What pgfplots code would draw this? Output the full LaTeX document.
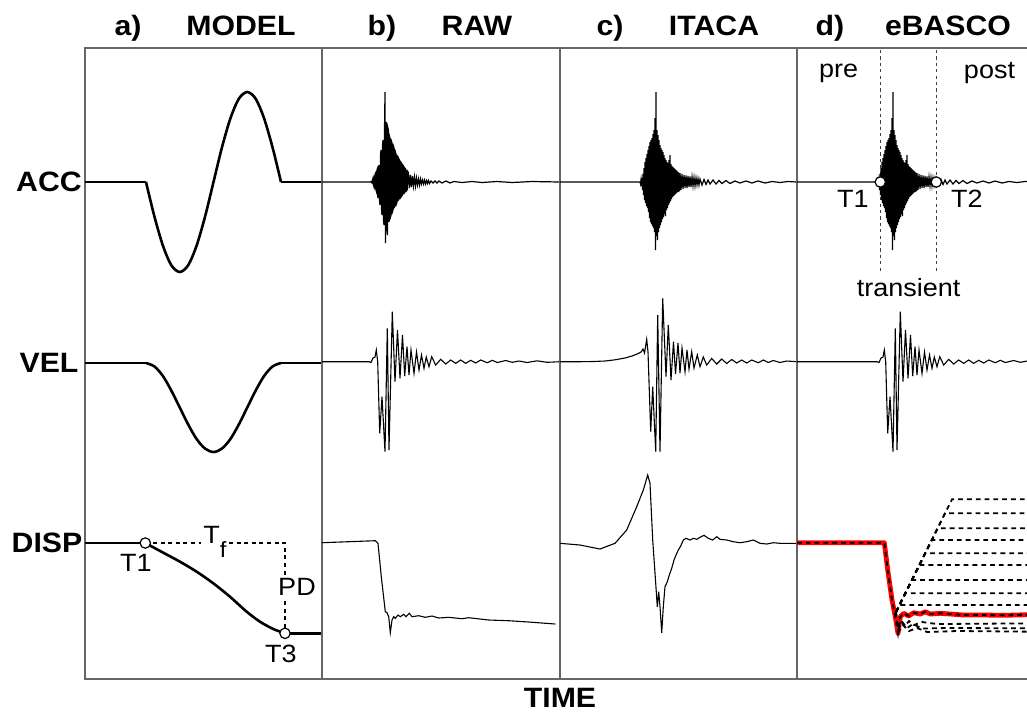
\documentclass[border=0pt]{standalone}
\usepackage{fontspec}
\setmainfont{Liberation Sans}[FakeStretch=1.08]
\usepackage{pgfplots}
\pgfplotsset{compat=1.18}
\usepackage{pgfplotstable}

% acceleration, RAW record (x: px from panel left, y: px from top)
\pgfplotstableread{
x y
0 182
48 182
49 181.5
50 183
50.5 180
51 178
51.5 185
52 187
52.5 177
53 175
53.5 188
54 190
54.5 172
55 170
55.5 195
56 198
56.5 168
57 165
57.5 200
58 205
58.5 155
59 150
59.5 210
60 215
60.5 145
61 140
61.5 220
62 225
62.5 130
63 92
63.5 243
64 125
64.5 122
65 230
65.5 235
66 128
66.5 130
67 222
67.5 218
68 138
68.5 140
69 215
69.5 213
70 143
70.5 145
71 210
71.5 208
72 148
72.5 150
73 206
73.5 205
74 154
74.5 156
75 202
75.5 200
76 157
76.5 158
77 199
77.5 198
78 161
78.5 162
79 197
79.5 196
80 164
80.5 165
81 194
81.5 193
82 167
82.5 168
83 192
83.5 191
84 170
84.5 171
85 190
85.5 189
86 172
86.5 173
87.5 188
88.5 175
89.5 187
90.5 176
91.5 186
92.5 177
93.5 186
94.5 178
95.5 185
96.5 179
97.5 185
98.5 179
99.5 184
100.5 180
101.5 184
102.5 180
103.5 184
104.5 180.5
105.5 183.5
106.5 180.5
107.5 183.5
109 181
111 183
113 181
115 183
117 181
120 183
124 181
128 183
132 181.5
140 182.5
150 181.5
160 182.5
175 181.5
190 182.5
210 181.5
238 182
}\accraw

% acceleration, ITACA / eBASCO window
\pgfplotstableread{
x y
0 182
79 182
80 182
80.5 184
81 180
81.5 186
82 178
82.5 190
83 174
83.5 195
84 168
84.5 200
85 162
85.5 203
86 158
86.5 206
87 154
87.5 208
88 150
88.5 212
89 146
89.5 218
90 142
90.5 222
91 140
91.5 224
92 138
92.5 226
93 134
93.5 228
94 130
94.5 232
95 118
95.5 250
96 92
96.5 236
97 130
97.5 240
98 135
98.5 232
99 140
99.5 228
100 145
100.5 225
101 148
101.5 222
102 150
102.5 219
103 152
103.5 217
104 155
104.5 214
105 158
105.5 216
106 160
106.5 210
107 162
107.5 208
108 163
108.5 205
109 160
109.5 203
110 155
110.5 201
111 164
111.5 199
112 166
112.5 197
113 167
113.5 196
114 168
114.5 195
115 169
115.5 194
116 170
116.5 193
117 171
117.5 192
118 172
118.5 192
119 173
119.5 191
120 173
121 190
122 174
123 189
124 175
125 188
126 175.5
127 188
128 176
129 187
130 176.5
131 187
132 177
133 186
134 177.5
135 186
136 178
137 185
138 178.5
139 185
140 179
142 185
144 179.5
146 184.5
148 180
150 184
153 180
156 184
159 180.5
162 183.5
166 180.5
170 183.5
175 181
180 183
186 181
192 183
198 181
205 183
212 181.5
220 182.5
228 181.5
237 182
}\accc

\pgfplotsset{
  panel/.style={scale only axis, anchor=north west, height=315.5pt,
    ymin=48, ymax=679, y dir=reverse, xmin=0,
    xtick=\empty, ytick=\empty,
    axis line style={black!60, line width=0.9pt}, clip=true},
  model/.style={black, line width=1.3pt, no markers},
  wave/.style={black, line width=0.55pt, no markers},
  dense/.style={black, line width=0.6pt, no markers},
  fam/.style={black, line width=0.9pt, dash pattern=on 2.4pt off 2pt, no markers},
  circ/.style={only marks, mark=*, mark size=2.6pt,
    mark options={fill=white, draw=black, line width=0.6pt, solid}},
}
\tikzset{ann/.style={font=\fontsize{12.5}{14}\selectfont}}

\begin{document}
\begin{tikzpicture}
% ---------------- a) MODEL
\begin{axis}[panel, at={(42.5pt,-24pt)}, width=118.5pt, xmax=237]
\addplot[model] coordinates {(0,182) (61,182)};
\addplot[model, smooth] coordinates {(61,182) (69.4,216.4) (77.9,245.6) (86.3,265.2) (94.75,272) (103.2,265.2) (111.6,245.6) (120.1,216.4) (128.5,182) (136.9,147.6) (145.4,118.4) (153.8,98.8) (162.25,92) (170.7,98.8) (179.1,118.4) (187.6,147.6) (196,182)};
\addplot[model] coordinates {(196,182) (237,182)};
\addplot[model] coordinates {(0,363) (61,363)};
\addplot[model, smooth] coordinates {(61,363) (69.4,366.4) (77.9,376) (86.3,390.5) (94.75,407.5) (103.2,424.5) (111.6,439) (120.1,448.6) (128.5,452) (136.9,448.6) (145.4,439) (153.8,424.5) (162.25,407.5) (170.7,390.5) (179.1,376) (187.6,366.4) (196,363)};
\addplot[model] coordinates {(196,363) (237,363)};
\addplot[black, line width=0.6pt, dash pattern=on 2pt off 1.8pt, no markers] coordinates {(60.3,543) (200,543) (200,633.3)};
\addplot[model] coordinates {(0,543) (60.3,543)};
\addplot[model, smooth] coordinates {(60.3,543) (78.3,552.7) (95,561.7) (111.7,571.7) (128.3,583.3) (145,596.7) (161.7,611.7) (175,621.7) (188.3,629) (200,633.3)};
\addplot[model] coordinates {(200,633.3) (237,633.3)};
\addplot[circ] coordinates {(60.3,543) (200,633.3)};
\node[ann] at (axis cs:50.8,562.5) {T1};
\node[ann] at (axis cs:195.8,654) {T3};
\node[ann, fill=white, inner sep=1pt] at (axis cs:212,587) {PD};
\node[ann, fill=white, inner sep=1pt, anchor=base] at (axis cs:130,543) {T\raisebox{-1.1ex}{\fontsize{11}{11}\selectfont f}};
\end{axis}
% ---------------- b) RAW
\begin{axis}[panel, at={(161pt,-24pt)}, width=119pt, xmax=238]
\addplot[dense] table[x=x,y=y] {\accraw};
\addplot[wave] coordinates {(0,361.7) (47,361.7) (49,362.5) (51,358) (53,357) (54.3,350) (55.7,362) (57.7,433.3) (60,396.7) (63,451.7) (65.3,328.3) (67,450) (70.3,311.7) (73,381.7) (75.5,330) (78,378.3) (80.5,335) (82.7,376) (85,346.7) (87,375) (89,350) (92,373.3) (94.5,352) (97,370) (99.5,355) (102,368.3) (104.3,357) (107,366.7) (109.7,356.7) (113.7,365) (118.7,359.3) (123.7,364) (128.7,360) (133.7,363.3) (138.7,360) (143.7,363.3) (148.7,360.3) (153.7,363) (158.7,360) (165.3,362.7) (170.3,360.3) (175.3,362.5) (183.7,360.5) (190.3,362.3) (197,361) (205,362.5) (215,360.8) (225,362.3) (238,361.7)};
\addplot[wave] coordinates {(0,542.7) (53.3,540.7) (56,543.3) (59.3,576.7) (63.3,611.7) (65,612.7) (66.7,616.7) (68.3,632.7) (70,620) (71.7,616.7) (73.3,618.3) (76,615) (78.3,616.7) (81.7,614.3) (84,616.7) (87.3,613.3) (90,616.7) (96.7,615.7) (103.3,617.3) (110,616) (116.7,618) (126.7,617.3) (140,618.7) (146.7,617.7) (166.7,620) (186.7,620.7) (206.7,622) (233.3,624)};
\end{axis}
% ---------------- c) ITACA
\begin{axis}[panel, at={(280pt,-24pt)}, width=118.5pt, xmax=237]
\addplot[dense] table[x=x,y=y] {\accc};
\addplot[wave] coordinates {(0,361.7) (20,361.7) (33.3,361.5) (45,361) (55,359.8) (65,358) (72,356) (77,354) (81,352) (83,349) (84.5,353) (86.7,339.3) (88,352) (90.7,431.7) (92.7,386.7) (95.7,451.7) (97.7,315) (100,451.7) (102.7,298.3) (106,376.7) (108.3,325) (111,380) (113.5,341.7) (115.5,374) (118,343) (120,373) (122,348) (125,371.7) (127,350) (129,369) (131.7,351.7) (134,368) (137.3,355) (140,366.7) (143.3,357) (146.7,365) (151.7,358.5) (156.7,364) (161.7,359) (166.7,363.5) (171.7,359.5) (176.7,363) (181.7,360) (186.7,363) (191.7,360) (198.3,362.7) (203.3,360) (208.3,362.5) (213.3,360.5) (220,362.5) (226.7,361) (237,361.7)};
\addplot[wave] coordinates {(0,543.3) (20,545) (40,549) (55,543.3) (66.7,530) (76.7,506.7) (83.3,490) (87.7,475) (90,483.3) (92.7,540) (95.7,583.3) (97.3,606.7) (98.7,591.7) (100,606.7) (101.7,632.7) (103.3,606.7) (105,586.7) (107.3,581.7) (109.3,575) (111.7,568.3) (114,560) (116,555) (118.3,550) (120.7,546) (123.3,540) (126,538.3) (130,540) (133.3,538.3) (136.7,539.3) (140,537.3) (144,535.3) (148.3,538.3) (152.7,540) (156.7,536.7) (160,539.3) (166.7,540) (173.3,541.7) (180,542.7) (186.7,541.7) (193.3,540) (200,543.3) (206.7,544) (213.3,542.7) (220,543.3) (237,543.3)};
\end{axis}
% ---------------- d) eBASCO
\begin{axis}[panel, at={(398.5pt,-24pt)}, width=118.5pt, xmax=237]
\addplot[black!75, line width=0.6pt, dash pattern=on 1.6pt off 1.6pt, no markers] coordinates {(83.3,50) (83.3,272)};
\addplot[black!75, line width=0.6pt, dash pattern=on 1.6pt off 1.6pt, no markers] coordinates {(139.3,50) (139.3,272)};
\addplot[dense] table[x=x,y=y] {\accc};
\addplot[circ] coordinates {(83.3,182) (139.3,182)};
\addplot[wave] coordinates {(0,361.7) (80,361.7) (82,362.5) (84,358) (86,357) (87.3,350) (88.7,362) (90.7,433.3) (93,396.7) (96,451.7) (98.3,328.3) (100,450) (103.3,311.7) (106,381.7) (108.5,330) (111,378.3) (113.5,335) (115.7,376) (118,346.7) (120,375) (122,350) (125,373.3) (127.5,352) (130,370) (132.5,355) (135,368.3) (137.3,357) (140,366.7) (142.7,356.7) (146.7,365) (151.7,359.3) (156.7,364) (161.7,360) (166.7,363.3) (171.7,360) (176.7,363.3) (181.7,360.3) (186.7,363) (191.7,360) (198.3,362.7) (203.3,360.3) (208.3,362.5) (216.7,360.5) (223.3,362.3) (230,361) (237,361.7)};
% red reference displacement
\addplot[red, line width=2.4pt, line join=round, no markers] coordinates {(0,542.7) (87.3,542.7) (90.7,570) (95,600) (98.3,616.7) (101,633.3) (103.3,616.7) (106.7,613.3) (111.7,616) (116.7,612.7) (123.3,614) (128.3,611.7) (133.3,614) (143.3,613.3) (153.3,614) (166.7,615) (186.7,615) (206.7,615.3) (230,614.7) (237,614.7)};
% dashed family of corrected displacements
\addplot[fam] coordinates {(0,542.7) (87.3,542.7) (90.7,570) (95,600) (98.3,616.7) (101,633.3) (103.3,616.7) (106.7,613.3) (111.7,616) (116.7,612.7) (123.3,614) (128.3,611.7) (133.3,614) (143.3,613.3) (153.3,614) (166.7,615) (186.7,615) (206.7,615.3) (230,614.7) (237,614.7)};
\addplot[fam] coordinates {(99,612) (155,499.3) (237,499.3)};
\addplot[fam] coordinates {(99,612) (148,513.3) (237,513.3)};
\addplot[fam] coordinates {(99,612) (140.6,528.3) (237,528.3)};
\addplot[fam] coordinates {(99,612) (134.7,540) (237,540)};
\addplot[fam] coordinates {(99,612) (128.2,553.3) (237,553.3)};
\addplot[fam] coordinates {(99,612) (122.3,565) (237,565)};
\addplot[fam] coordinates {(99,612) (114.9,580) (237,580)};
\addplot[fam] coordinates {(99,612) (108.3,593.3) (237,593.3)};
\addplot[fam] coordinates {(99,612) (102.5,605) (237,605)};
\addplot[fam] coordinates {(99,612) (101,628) (104,620) (108,626) (112,621) (117,625) (125,622) (140,624) (237,623.3)};
\addplot[fam] coordinates {(101,630) (105,622) (110,628) (116,624) (125,628.5) (150,628) (237,628.3)};
\addplot[fam] coordinates {(101,633) (106,625) (112,631) (120,628) (130,632) (160,631) (237,631.7)};
\node[ann] at (axis cs:41.7,73) {pre};
\node[ann] at (axis cs:192.5,73) {post};
\node[ann] at (axis cs:55.8,199) {T1};
\node[ann] at (axis cs:169.8,199) {T2};
\node[ann] at (axis cs:111.7,288) {transient};
\end{axis}
% ---------------- titles and labels (1 px = 0.5 pt)
\begin{scope}[x=0.5pt, y=-0.5pt, every node/.style={font=\fontsize{14}{16}\selectfont\bfseries, anchor=base}]
\node at (128,35) {a)};
\node at (241,35) {MODEL};
\node at (382,35) {b)};
\node at (477,35) {RAW};
\node at (610,35) {c)};
\node at (714,35) {ITACA};
\node at (830,35) {d)};
\node at (948,35) {eBASCO};
\node at (49,191) {ACC};
\node at (49,372) {VEL};
\node at (47,552) {DISP};
\node at (560,707) {TIME};
\end{scope}
\pgfresetboundingbox
\path (0,0) rectangle (513.5pt,-356.5pt);
\end{tikzpicture}
\end{document}
